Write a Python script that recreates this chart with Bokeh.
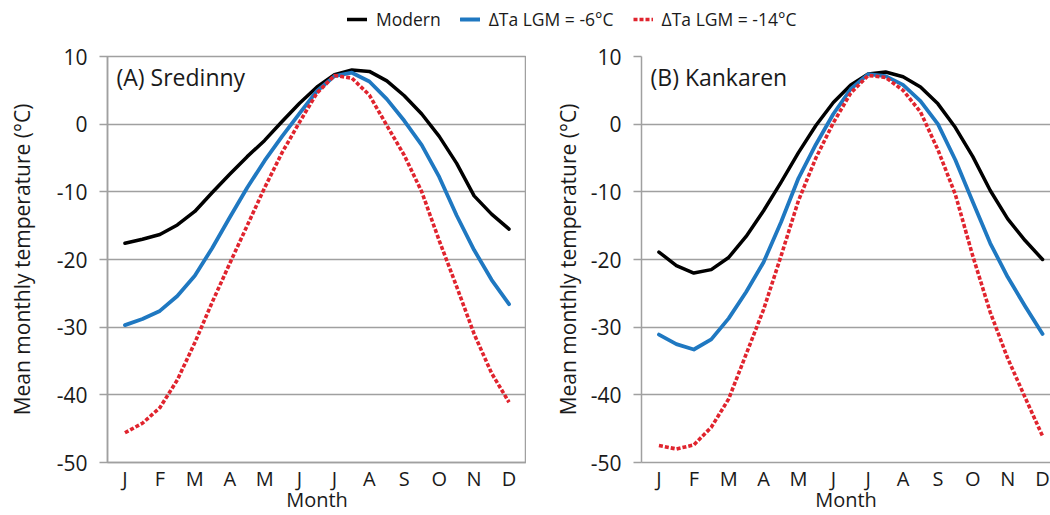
from bokeh.plotting import figure
from bokeh.layouts import column, row
from bokeh.models import Range1d, FixedTicker, Label, Legend
from bokeh.embed import file_html
from bokeh.resources import INLINE

# ---------------- data ----------------
month_pos = [1, 1.5, 2, 2.5, 3, 3.5, 4, 4.5, 5, 5.5, 6, 6.5,
             7, 7.5, 8, 8.5, 9, 9.5, 10, 10.5, 11, 11.5, 12]
month_ticks = [1, 2, 3, 4, 5, 6, 7, 8, 9, 10, 11, 12]
month_labels = ["J", "F", "M", "A", "M", "J", "J", "A", "S", "O", "N", "D"]
y_ticks = [-50, -40, -30, -20, -10, 0, 10]
y_tick_labels = ["-50", "-40", "-30", "-20", "-10", "0", "10"]

# (A) Sredinny
sred_modern = [-17.6, -17.0, -16.3, -14.9, -12.9, -10.1, -7.4, -4.8, -2.4, 0.4, 3.1, 5.5,
               7.3, 8.0, 7.8, 6.4, 4.2, 1.5, -1.8, -5.8, -10.6, -13.3, -15.5]
sred_lgm6 = [-29.7, -28.8, -27.6, -25.4, -22.4, -18.3, -13.8, -9.4, -5.4, -1.8, 1.6, 4.9,
             7.1, 7.6, 6.3, 3.7, 0.5, -3.1, -7.8, -13.5, -18.6, -23.0, -26.6]
sred_lgm14 = [-45.6, -44.2, -41.9, -37.8, -32.3, -26.3, -20.6, -15.0, -9.4, -4.2, 0.3, 4.6,
              7.2, 6.8, 4.3, -0.2, -4.6, -10.0, -17.2, -24.0, -31.0, -36.8, -41.1]

# (B) Kankaren
kank_modern = [-18.9, -20.9, -22.0, -21.5, -19.7, -16.6, -12.8, -8.6, -4.2, -0.2, 3.2, 5.8,
               7.4, 7.7, 7.0, 5.5, 3.0, -0.5, -4.8, -9.8, -14.0, -17.2, -20.0]
kank_lgm6 = [-31.1, -32.5, -33.3, -31.8, -28.7, -24.8, -20.4, -14.5, -8.0, -3.0, 1.5, 5.2,
             7.4, 7.1, 5.8, 3.4, 0.0, -5.3, -11.5, -17.6, -22.6, -26.9, -31.0]
kank_lgm14 = [-47.5, -48.0, -47.4, -44.8, -40.6, -34.0, -27.4, -19.5, -11.3, -5.0, 0.2, 4.6,
              7.2, 6.9, 5.0, 1.8, -3.8, -10.4, -19.5, -27.8, -34.6, -40.4, -46.1]

series_names = ["Modern", "\u0394Ta LGM = -6\u00b0C", "\u0394Ta LGM = -14\u00b0C"]

# ---------------- style ----------------
FONT = "Open Sans"
TXT = "#1a1a1a"
GRID = "#a0a0a0"
C_MOD = "#000000"
C_6 = "#1f78c1"
C_14 = "#e0242e"

FRAME_H = 406
BAND = 418.5 / 12.0


def style_line_kwargs(i):
    if i == 0:
        return dict(line_color=C_MOD, line_width=3.5, line_join="round", line_cap="round")
    if i == 1:
        return dict(line_color=C_6, line_width=3.8, line_join="round", line_cap="round")
    return dict(line_color=C_14, line_width=3.6, line_dash="4 2", line_join="round")


def make_panel(label, series, width, border_left, x_end, outline, ylab_standoff):
    p = figure(width=width, height=479,
               x_range=Range1d(0.5, x_end), y_range=Range1d(-50, 10),
               output_backend="svg", toolbar_location=None,
               min_border_left=border_left, min_border_right=0,
               min_border_top=20, min_border_bottom=53)
    p.outline_line_color = GRID if outline else None
    p.outline_line_width = 1.5

    for i, ys in enumerate(series):
        p.line(month_pos, ys, **style_line_kwargs(i))

    p.xgrid.visible = False
    p.ygrid.grid_line_color = GRID
    p.ygrid.grid_line_width = 1.5

    p.yaxis.ticker = FixedTicker(ticks=y_ticks)
    p.yaxis.major_label_overrides = {t: l for t, l in zip(y_ticks, y_tick_labels)}
    p.yaxis.minor_tick_line_color = None
    p.yaxis.major_tick_out = 8
    p.yaxis.major_tick_in = 0
    p.yaxis.major_tick_line_color = GRID
    p.yaxis.major_tick_line_width = 1.5
    p.yaxis.axis_line_color = GRID
    p.yaxis.axis_line_width = 1.5
    p.yaxis.major_label_text_font = FONT
    p.yaxis.major_label_text_font_size = "21px"
    p.yaxis.major_label_text_color = TXT
    p.yaxis.major_label_standoff = 12
    p.yaxis.axis_label = "Mean monthly temperature (\u00b0C)"
    p.yaxis.axis_label_text_font = FONT
    p.yaxis.axis_label_text_font_size = "21px"
    p.yaxis.axis_label_text_font_style = "normal"
    p.yaxis.axis_label_text_color = TXT
    p.yaxis.axis_label_standoff = ylab_standoff

    p.xaxis.ticker = FixedTicker(ticks=month_ticks)
    p.xaxis.major_label_overrides = {t: l for t, l in zip(month_ticks, month_labels)}
    p.xaxis.minor_tick_line_color = None
    p.xaxis.major_tick_line_color = None
    p.xaxis.major_tick_out = 0
    p.xaxis.major_tick_in = 0
    p.xaxis.axis_line_color = GRID
    p.xaxis.axis_line_width = 1.5
    p.xaxis.major_label_text_font = FONT
    p.xaxis.major_label_text_font_size = "20px"
    p.xaxis.major_label_text_color = TXT
    p.xaxis.major_label_standoff = 2
    p.xaxis.axis_label = "Month"
    p.xaxis.axis_label_text_font = FONT
    p.xaxis.axis_label_text_font_size = "20px"
    p.xaxis.axis_label_text_font_style = "normal"
    p.xaxis.axis_label_text_color = TXT
    p.xaxis.axis_label_standoff = -9
    p.xaxis.axis_label_text_baseline = "alphabetic"

    # panel title inside the top-left corner of the frame
    p.add_layout(Label(x=9, y=FRAME_H - 4, x_units="screen", y_units="screen",
                       text=label, text_font=FONT, text_font_size="23px",
                       text_color=TXT, text_baseline="top", text_align="left"))
    return p


pA = make_panel("(A) Sredinny", [sred_modern, sred_lgm6, sred_lgm14],
                width=526, border_left=107, x_end=12.5, outline=True, ylab_standoff=18)
pB = make_panel("(B) Kankaren", [kank_modern, kank_lgm6, kank_lgm14],
                width=524, border_left=115, x_end=0.5 + 409 / BAND,
                outline=False, ylab_standoff=6)

# ---------------- legend strip ----------------
leg = figure(width=1050, height=36, x_range=Range1d(0, 1), y_range=Range1d(100, 101),
             output_backend="svg", toolbar_location=None,
             min_border=0, outline_line_color=None)
leg.axis.visible = False
leg.grid.visible = False
items = []
for i, (name, ys) in enumerate(zip(series_names, [sred_modern, sred_lgm6, sred_lgm14])):
    r = leg.line(month_pos, ys, **style_line_kwargs(i))
    items.append((name, [r]))
legend = Legend(items=items, orientation="horizontal", location=(347, 5),
                label_text_font=FONT, label_text_font_size="17.5px",
                label_text_color=TXT, glyph_width=20, glyph_height=16,
                label_standoff=9, spacing=19, padding=2, margin=0,
                border_line_color=None, background_fill_alpha=0)
leg.add_layout(legend)

layout = column(leg, row(pA, pB, spacing=0), spacing=0)

open("out.html", "w").write(file_html(layout, INLINE))
